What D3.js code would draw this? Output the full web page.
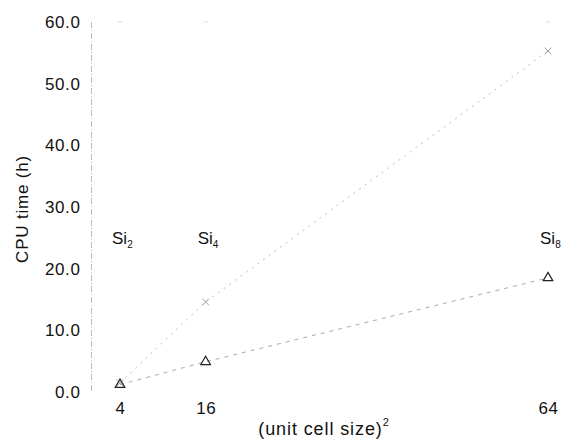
<!DOCTYPE html>
<html>
<head>
<meta charset="utf-8">
<script src="https://cdn.jsdelivr.net/npm/d3@7"></script>
<style>
  body { margin: 0; background: #fff; }
  svg { font-family: "Liberation Sans", Arial, sans-serif; }
</style>
</head>
<body>
<div id="chart"></div>
<script>
// cell size squared and CPU time (hours)
const cellSizes = [4, 16, 64];
const cellNames = ['2', '4', '8'];
const upperTimes = [1.5, 14.6, 55.3];
const lowerTimes = [1.2, 4.9, 18.5];
const yTicks = [0, 10, 20, 30, 40, 50, 60];

const chartSize = { width: 577, height: 442 };

const svg = d3.select('#chart').append('svg')
  .attr('width', chartSize.width)
  .attr('height', chartSize.height);

const x = d3.scaleLinear().domain([0, 64]).range([91.5, 548]);
const y = d3.scaleLinear().domain([0, 60]).range([392, 22]);

// faint dashed y axis line
svg.append('line')
  .attr('x1', x(0)).attr('x2', x(0))
  .attr('y1', y(60)).attr('y2', y(0))
  .attr('stroke', '#aaa')
  .attr('stroke-width', 0.8)
  .attr('stroke-dasharray', '6,2,1,2');

const yAxis = d3.axisLeft(y)
  .tickValues(yTicks)
  .tickFormat(d3.format('.1f'))
  .tickSize(0)
  .tickPadding(11);

svg.append('g')
  .attr('transform', `translate(${x(0)},0)`)
  .call(yAxis)
  .call(g => g.select('.domain').remove())
  .call(g => g.selectAll('text').attr('font-size', 17).attr('letter-spacing', 0.6).attr('fill', '#111'));

const xAxis = d3.axisBottom(x)
  .tickValues(cellSizes)
  .tickFormat(d3.format('d'))
  .tickSize(0)
  .tickPadding(10);

svg.append('g')
  .attr('transform', `translate(0,${y(0)})`)
  .call(xAxis)
  .call(g => g.select('.domain').remove())
  .call(g => g.selectAll('text').attr('font-size', 17).attr('letter-spacing', 0.5).attr('fill', '#111'));

// faint top marks at 60
svg.selectAll('.topmark').data(cellSizes).enter().append('line')
  .attr('x1', d => x(d) - 2).attr('x2', d => x(d) + 2)
  .attr('y1', y(60)).attr('y2', y(60))
  .attr('stroke', '#ddd');

// axis titles
svg.append('text')
  .attr('transform', `translate(28,${(y(0) + y(60)) / 2 + 2}) rotate(-90)`)
  .attr('text-anchor', 'middle')
  .attr('font-size', 17)
  .attr('letter-spacing', 0.8)
  .attr('fill', '#111')
  .text('CPU time (h)');

const xt = svg.append('text')
  .attr('x', 324).attr('y', 435)
  .attr('text-anchor', 'middle')
  .attr('font-size', 18)
  .attr('letter-spacing', 0.9)
  .attr('fill', '#111');
xt.append('tspan').text('(unit cell size)');
xt.append('tspan').attr('dy', -9).attr('font-size', 11).text('2');

// Si labels
svg.selectAll('.si').data(cellSizes).enter().append('text')
  .attr('x', d => x(d) - 8)
  .attr('y', 244)
  .attr('font-size', 17)
  .attr('fill', '#111')
  .each(function (d, i) {
    const t = d3.select(this);
    t.append('tspan').text('Si');
    t.append('tspan').attr('dy', 4).attr('font-size', 10).text(cellNames[i]);
  });

// lines
const line = d3.line()
  .x((d, i) => x(cellSizes[i]))
  .y(d => y(d));

svg.append('path')
  .datum(upperTimes)
  .attr('d', line)
  .attr('fill', 'none')
  .attr('stroke', '#bbb')
  .attr('stroke-width', 1)
  .attr('stroke-dasharray', '2,5');

svg.append('path')
  .datum(lowerTimes)
  .attr('d', line)
  .attr('fill', 'none')
  .attr('stroke', '#aaa')
  .attr('stroke-width', 1)
  .attr('stroke-dasharray', '4,5');

// markers
svg.selectAll('.up').data(upperTimes).enter().append('path')
  .attr('transform', (d, i) => `translate(${x(cellSizes[i])},${y(d)})`)
  .attr('d', d3.symbol(d3.symbolX, 30))
  .attr('fill', 'none')
  .attr('stroke', '#999')
  .attr('stroke-width', 1);

svg.selectAll('.low').data(lowerTimes).enter().append('path')
  .attr('transform', (d, i) => `translate(${x(cellSizes[i])},${y(d)})`)
  .attr('d', d3.symbol(d3.symbolTriangle, 40))
  .attr('fill', 'none')
  .attr('stroke', '#222')
  .attr('stroke-width', 1.2);
</script>
</body>
</html>
